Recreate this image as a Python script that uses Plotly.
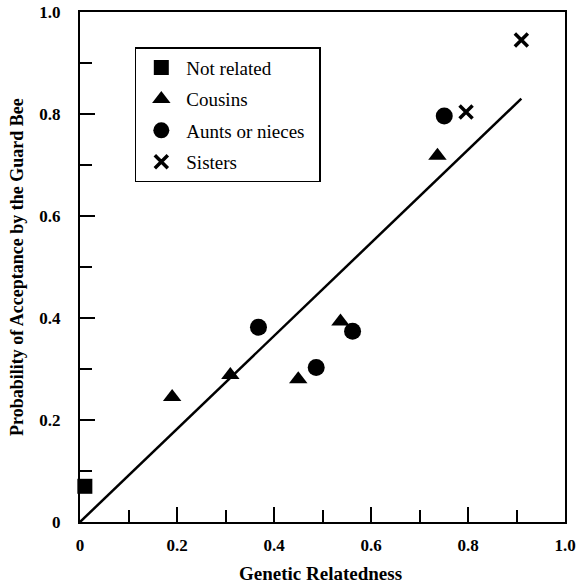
import plotly.graph_objects as go

# Data
not_related_x = [0.01]
not_related_y = [0.07]
cousins_x = [0.19, 0.31, 0.45, 0.537, 0.737]
cousins_y = [0.245, 0.288, 0.28, 0.393, 0.718]
aunts_x = [0.368, 0.487, 0.562, 0.751]
aunts_y = [0.382, 0.303, 0.374, 0.796]
sisters_x = [0.796, 0.91]
sisters_y = [0.804, 0.945]
fit_x = [0.0, 0.91]
fit_y = [0.0, 0.83]
tick_vals = [0, 0.2, 0.4, 0.6, 0.8, 1.0]
tick_text = ["0", "0.2", "0.4", "0.6", "0.8", "1.0"]

serif = "Liberation Serif"
fig = go.Figure()

fig.add_trace(go.Scatter(x=fit_x, y=fit_y, mode="lines", line=dict(color="black", width=2.5),
                         showlegend=False, hoverinfo="skip"))
fig.add_trace(go.Scatter(x=not_related_x, y=not_related_y, mode="markers", name="Not related",
                         legendgroup="a",
                         marker=dict(symbol="square", size=15, color="black")))
fig.add_trace(go.Scatter(x=cousins_x, y=cousins_y, mode="markers", name="Cousins",
                         legendgroup="b",
                         marker=dict(symbol="triangle-up", size=16, color="black")))
fig.add_trace(go.Scatter(x=aunts_x, y=aunts_y, mode="markers", name="Aunts or nieces\u00a0\u00a0",
                         legendgroup="c",
                         marker=dict(symbol="circle", size=17, color="black")))
fig.add_trace(go.Scatter(x=sisters_x, y=sisters_y, mode="markers", name="Sisters",
                         legendgroup="d",
                         marker=dict(symbol="x-thin-open", size=13, color="black",
                                     line=dict(color="black", width=3.5))))

axis_common = dict(
    range=[0, 1], showgrid=False, zeroline=False, automargin=False,
    showline=True, linecolor="black", linewidth=2, mirror=True,
    ticks="inside", tickcolor="black", tickwidth=2, ticklen=15,
    minor=dict(ticks="inside", dtick=0.1, ticklen=12, tickcolor="black", tickwidth=2),
    tickfont=dict(family=serif, size=17, color="black", weight="bold"),
    tickvals=tick_vals, ticktext=tick_text, ticklabeloverflow="allow",
)

fig.update_xaxes(**axis_common, ticklabelstandoff=7)
fig.update_yaxes(**axis_common, ticklabelstandoff=14)

fig.update_traces(cliponaxis=False, selector=dict(mode="markers"))

fig.add_annotation(text="<b>Genetic Relatedness</b>", xref="paper", yref="paper",
                   x=0.495, y=-0.101, xanchor="center", yanchor="middle", showarrow=False,
                   font=dict(family=serif, size=19, color="black"))
fig.add_annotation(text="<b>Probability of Acceptance by the Guard Bee</b>", xref="paper", yref="paper",
                   x=-0.130, y=0.5, xanchor="center", yanchor="middle", showarrow=False, textangle=-90,
                   font=dict(family=serif, size=18, color="black"))

fig.update_layout(
    width=582, height=586,
    margin=dict(l=80, r=17, t=12, b=64),
    paper_bgcolor="white", plot_bgcolor="white",
    legend=dict(x=0.113, y=0.931, xanchor="left", yanchor="top",
                bgcolor="white", bordercolor="black", borderwidth=1.5,
                font=dict(family=serif, size=19, color="black"),
                tracegroupgap=3.7, itemwidth=40),
    showlegend=True,
)

fig.write_html("out.html", config={"displayModeBar": False},
               post_script="document.body.style.margin='0';document.body.style.overflow='hidden';")
